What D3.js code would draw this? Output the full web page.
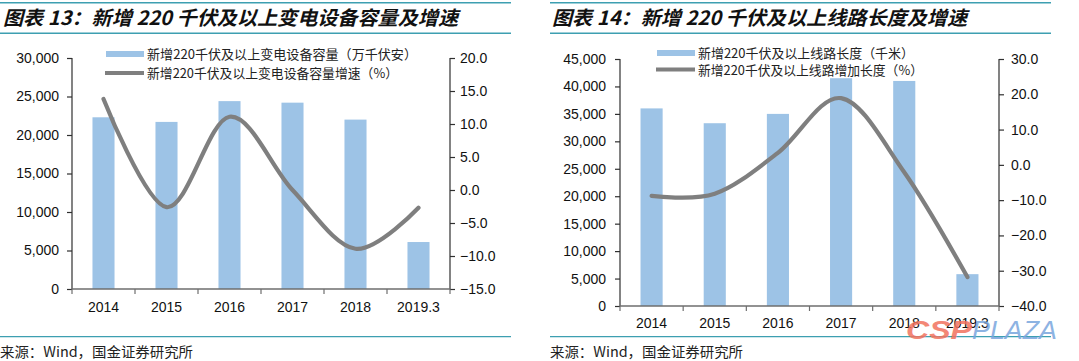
<!DOCTYPE html>
<html><head><meta charset="utf-8">
<script src="https://cdn.jsdelivr.net/npm/d3@7"></script>
<style>
html,body{margin:0;padding:0;background:#fff;}
svg{display:block;}
</style></head>
<body>
<svg id="c" width="1079" height="361"></svg>
<script>
// ---------- data ----------
const categories = ["2014", "2015", "2016", "2017", "2018", "2019.3"];
// Chart 13
const capacity = [22300, 21700, 24400, 24200, 22000, 6100];          // 万千伏安
const capacityGrowth = [13.8, -2.6, 11.1, 0.0, -8.9, -2.7];          // %
const capLeftTicks = [0, 5000, 10000, 15000, 20000, 25000, 30000];
const capRightTicks = [-15, -10, -5, 0, 5, 10, 15, 20];
// Chart 14
const lineLength = [36000, 33300, 35000, 41500, 41000, 5800];        // 千米
const lineGrowth = [-8.8, -8.2, 3.4, 18.9, -2.1, -31.8];             // %
const lenLeftTicks = [0, 5000, 10000, 15000, 20000, 25000, 30000, 35000, 40000, 45000];
const lenRightTicks = [-40, -30, -20, -10, 0, 10, 20, 30];

const titles = ["图表 13：新增 220 千伏及以上变电设备容量及增速", "图表 14：新增 220 千伏及以上线路长度及增速"];
const legendBars = ["新增220千伏及以上变电设备容量（万千伏安）", "新增220千伏及以上线路长度（千米）"];
const legendLines = ["新增220千伏及以上变电设备容量增速（%）", "新增220千伏及以上线路增加长度（%）"];
const sourceText = "来源：Wind，国金证券研究所";

// ---------- styles ----------
const BAR = "#9dc3e6", LINE = "#7f7f7f", TEAL = "#3d9fb1", AXIS = "#303030", BASE = "#6e6e6e";
const NUM = "'Liberation Sans', Arial, sans-serif";
const CJK = "'Noto Sans CJK SC', 'Noto Sans', sans-serif";

const svg = d3.select("#c");

function panel(cfg) {
  const g = svg.append("g");
  // header rules + title
  g.append("line").attr("x1", cfg.hx0).attr("x2", cfg.hx1).attr("y1", 2.7).attr("y2", 2.7)
    .attr("stroke", TEAL).attr("stroke-width", 1.5);
  g.append("line").attr("x1", cfg.hx0).attr("x2", cfg.hx1).attr("y1", 33.3).attr("y2", 33.3)
    .attr("stroke", TEAL).attr("stroke-width", 1.5);
  g.append("text").attr("x", cfg.tx).attr("y", 24.5)
    .attr("font-family", CJK).attr("font-weight", "bold").attr("font-style", "italic")
    .attr("font-size", 19.5).attr("fill", "#111")
    .attr("textLength", cfg.tw).attr("lengthAdjust", "spacingAndGlyphs")
    .text(cfg.title);
  // source
  g.append("line").attr("x1", cfg.hx0).attr("x2", cfg.hx1).attr("y1", 336.7).attr("y2", 336.7)
    .attr("stroke", TEAL).attr("stroke-width", 1.2);
  g.append("text").attr("x", cfg.sx).attr("y", 357)
    .attr("font-family", CJK).attr("font-size", 14).attr("fill", "#222")
    .attr("textLength", 193).attr("lengthAdjust", "spacingAndGlyphs")
    .text(sourceText);

  const x = d3.scaleBand().domain(categories).range([cfg.x0, cfg.x1]).paddingInner(0.65).paddingOuter(0.325);
  const yL = d3.scaleLinear().domain(cfg.lDom).range([cfg.yBot, cfg.yTop]);
  const yR = d3.scaleLinear().domain(cfg.rDom).range([cfg.yBot, cfg.yTop]);
  const step = x.step();

  // bars
  g.append("g").selectAll("rect").data(cfg.bars).join("rect")
    .attr("x", (d, i) => x(categories[i]))
    .attr("width", x.bandwidth())
    .attr("y", d => yL(d))
    .attr("height", d => yL(0) - yL(d))
    .attr("fill", BAR);

  // left axis
  const axL = g.append("g").attr("transform", `translate(${cfg.x0},0)`)
    .call(d3.axisLeft(yL).tickValues(cfg.lTicks).tickFormat(d3.format(",")).tickSize(5).tickPadding(cfg.lPad));
  // right axis
  const axR = g.append("g").attr("transform", `translate(${cfg.x1},0)`)
    .call(d3.axisRight(yR).tickValues(cfg.rTicks).tickFormat(d3.format(".1f")).tickSize(5).tickPadding(cfg.rPad));
  [axL, axR].forEach(a => {
    a.select(".domain").remove();
    a.selectAll(".tick line").attr("stroke", AXIS).attr("stroke-width", 1.2);
    a.selectAll("text").attr("font-family", NUM).attr("font-size", 14).attr("fill", "#111");
  });
  g.append("line").attr("x1", cfg.x0).attr("x2", cfg.x0).attr("y1", cfg.yTop).attr("y2", cfg.yBot)
    .attr("stroke", AXIS).attr("stroke-width", 1.2);
  g.append("line").attr("x1", cfg.x1).attr("x2", cfg.x1).attr("y1", cfg.yTop).attr("y2", cfg.yBot)
    .attr("stroke", AXIS).attr("stroke-width", 1.2);

  // bottom axis (ticks at category boundaries)
  const xb = g.append("g").attr("transform", `translate(0,${cfg.yBot})`);
  xb.append("line").attr("x1", cfg.x0).attr("x2", cfg.x1).attr("stroke", BASE).attr("stroke-width", 1.5);
  xb.selectAll("line.t").data(d3.range(categories.length + 1)).join("line").attr("class", "t")
    .attr("x1", i => cfg.x0 + i * step).attr("x2", i => cfg.x0 + i * step)
    .attr("y1", 0).attr("y2", 5).attr("stroke", BASE).attr("stroke-width", 1.2);
  xb.selectAll("text").data(categories).join("text")
    .attr("x", d => x(d) + x.bandwidth() / 2).attr("y", cfg.labDy)
    .attr("text-anchor", "middle").attr("font-family", NUM).attr("font-size", 14).attr("fill", "#111")
    .text(d => d);

  // growth line
  const ln = d3.line().x((d, i) => x(categories[i]) + x.bandwidth() / 2).y(d => yR(d))
    .curve(d3.curveCardinal.tension(0));
  g.append("path").attr("d", ln(cfg.line)).attr("fill", "none")
    .attr("stroke", LINE).attr("stroke-width", 4.2).attr("stroke-linecap", "round");

  // legend
  const lg = g.append("g");
  lg.append("rect").attr("x", cfg.lgx).attr("y", cfg.lgy1 - 3).attr("width", 38).attr("height", 6).attr("fill", BAR);
  lg.append("line").attr("x1", cfg.lgx - 1).attr("x2", cfg.lgx + 38).attr("y1", cfg.lgy2).attr("y2", cfg.lgy2)
    .attr("stroke", LINE).attr("stroke-width", 4.2);
  lg.append("text").attr("x", cfg.lgx + 41).attr("y", cfg.lgy1 + 5)
    .attr("font-family", CJK).attr("font-size", 13).attr("fill", "#222")
    .attr("textLength", cfg.lw1).attr("lengthAdjust", "spacingAndGlyphs").text(cfg.lt1);
  lg.append("text").attr("x", cfg.lgx + 41).attr("y", cfg.lgy2 + 5)
    .attr("font-family", CJK).attr("font-size", 13).attr("fill", "#222")
    .attr("textLength", cfg.lw2).attr("lengthAdjust", "spacingAndGlyphs").text(cfg.lt2);
}

panel({
  hx0: 0, hx1: 511, tx: 3, tw: 455, sx: 0, title: titles[0],
  x0: 72, x1: 450, yTop: 58, yBot: 289, labDy: 23,
  lDom: [0, 30000], rDom: [-15, 20], lTicks: capLeftTicks, rTicks: capRightTicks, lPad: 8, rPad: 5,
  bars: capacity, line: capacityGrowth,
  lgx: 106, lgy1: 54, lgy2: 73, lw1: 270, lw2: 251, lt1: legendBars[0], lt2: legendLines[0]
});
panel({
  hx0: 550, hx1: 1051, tx: 552, tw: 415, sx: 550, title: titles[1],
  x0: 620, x1: 999, yTop: 59, yBot: 306, labDy: 22,
  lDom: [0, 45000], rDom: [-40, 30], lTicks: lenLeftTicks, rTicks: lenRightTicks, lPad: 9, rPad: 7,
  bars: lineLength, line: lineGrowth,
  lgx: 657, lgy1: 53, lgy2: 69.5, lw1: 216, lw2: 225, lt1: legendBars[1], lt2: legendLines[1]
});

// watermark
const wm = svg.append("g").attr("opacity", 0.85);
wm.append("text").attr("x", 906).attr("y", 339).attr("font-family", NUM).attr("font-weight", "bold")
  .attr("font-style", "italic").attr("font-size", 25).attr("fill", "#f2735f")
  .attr("textLength", 66).attr("lengthAdjust", "spacingAndGlyphs").text("CSP");
wm.append("text").attr("x", 972).attr("y", 339).attr("font-family", NUM)
  .attr("font-style", "italic").attr("font-size", 25).attr("fill", "#7aa6de")
  .attr("textLength", 85).attr("lengthAdjust", "spacingAndGlyphs").text("PLAZA");
</script>
</body></html>
